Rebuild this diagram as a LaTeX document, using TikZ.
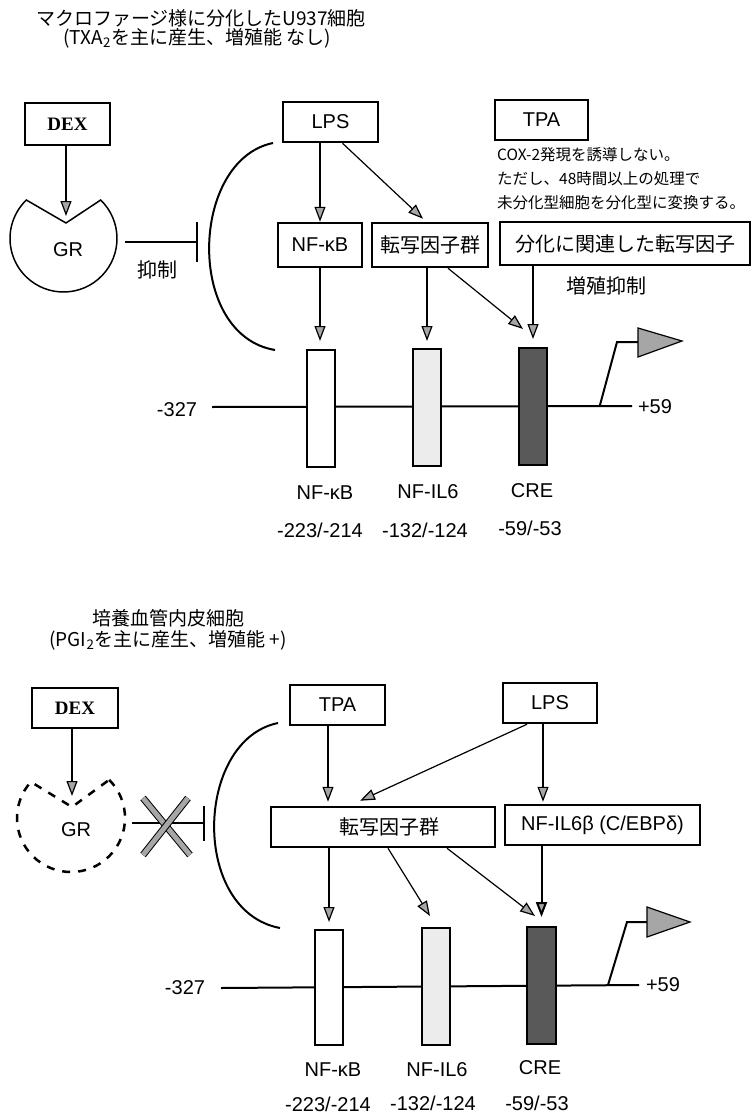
\documentclass[tikz,border=0pt]{standalone}
\usepackage{fontspec}
\setmainfont{Liberation Sans}
\newfontfamily\jpfont{Noto Sans CJK JP}
\newfontfamily\dexfont{Liberation Serif}
\usetikzlibrary{arrows.meta}
\newcommand{\lbl}{\fontsize{20}{24}\selectfont}
\newcommand{\jplbl}{\jpfont\fontsize{20}{24}\selectfont}
\newcommand{\jpnote}{\jpfont\fontsize{15.5}{24}\selectfont}
\newcommand{\jptitle}{\jpfont\fontsize{19}{22}\selectfont}
\tikzset{
  stimbox/.style={draw, line width=2.5pt, inner sep=0pt, font=\lbl},
  jbox/.style={stimbox, font=\jplbl},
  dexbox/.style={stimbox, font=\dexfont\bfseries\fontsize{19}{22}\selectfont},
  site/.style={draw, line width=2pt, inner sep=0pt, minimum width=28pt, minimum height=117pt},
  garrow/.style={line width=1.2pt, -{Triangle[length=15pt,width=11pt,fill=gray!70]}},
  inhib/.style={line width=2.5pt, -{Bar[width=40pt]}},
  dna/.style={line width=2pt},
  xmark/.style={line width=1pt, double=gray!70, double distance=5pt},
  txt/.style={inner sep=0pt, font=\lbl},
  jtxt/.style={inner sep=0pt, font=\jplbl},
  ttl/.style={inner sep=0pt, font=\jptitle},
  notetxt/.style={inner sep=0pt, align=left, font=\jpnote},
}
\begin{document}
\begin{tikzpicture}[x=1pt,y=-1pt]
        \useasboundingbox (0,0) rectangle (751,1118);

        % pannello superiore: titolo
        \node[ttl] (titA1) at (201,18) {マクロファージ様に分化したU937細胞};
        \node[ttl] (titA2) at (197,38) {(TXA\textsubscript{2}を主に産生、増殖能 なし)};

        % stimoli
        \node[dexbox, minimum width=85pt, minimum height=42pt] (dexA) at (67.5,124) {DEX};
        \node[stimbox, minimum width=95pt, minimum height=40pt] (lpsA) at (330.5,122) {LPS};
        \node[stimbox, minimum width=93pt, minimum height=40pt] (tpaA) at (541.5,120) {TPA};
        \node[notetxt, anchor=west] (noteA) at (497,179) {COX-2発現を誘導しない。\\ただし、48時間以上の処理で\\未分化型細胞を分化型に変換する。};

        % fattori
        \node[stimbox, minimum width=84pt, minimum height=44pt] (nfkbA) at (320,245) {NF-κB};
        \node[jbox, minimum width=116pt, minimum height=44pt] (tfA) at (430,245) {転写因子群};
        \node[jbox, minimum width=250pt, minimum height=43pt] (diffA) at (625,243.5) {分化に関連した転写因子};
        \node[jtxt] (growA) at (606,286) {増殖抑制};

        % GR
        \coordinate (grAc) at (63.5,238.5);
        \coordinate (grAtip) at (66,223);
        \coordinate (grAin) at (66,216);
        \draw[line width=1.5pt] (grAc) ++(-46:53.5) arc[start angle=-46, end angle=226, radius=53.5] -- (grAtip) -- cycle;
        \node[txt] (grA) at (68,250) {GR};
        \draw[garrow] (dexA.south -| grAin) -- (grAin);

        % inibizione
        \coordinate (inhAs) at (125,242);
        \coordinate (inhAe) at (198,242);
        \draw[inhib] (inhAs) -- (inhAe);
        \node[jtxt] (inhA) at (157,270) {抑制};
        \draw[line width=2pt] (273,143) .. controls (190,160) and (185,335) .. (275,350);

        % promotore
        \coordinate (dnaAl) at (212,407);
        \coordinate (dnaAr) at (632,406);
        \draw[dna] (dnaAl) -- (dnaAr);
        \node[txt] (m327A) at (177,410) {-327};
        \node[txt] (p59A) at (655,407) {+59};
        \node[site, fill=white] (siteA1) at (321,408.5) {};
        \node[site, fill=gray!15] (siteA2) at (427,407.5) {};
        \node[site, fill=black!65] (siteA3) at (533,406.5) {};
        \coordinate (prA) at (600,405);
        \draw[dna] (prA) -- (617,342) -- (638,342);
        \draw[line width=1.2pt, fill=gray!70] (638,328) -- (682,341) -- (638,357) -- cycle;

        \node[txt] (labA1) at (325,493) {NF-κB};
        \node[txt] (labA2) at (428,492) {NF-IL6};
        \node[txt] (labA3) at (532,491) {CRE};
        \node[txt] (posA1) at (320,530) {-223/-214};
        \node[txt] (posA2) at (425,530) {-132/-124};
        \node[txt] (posA3) at (530,528) {-59/-53};

        % frecce
        \draw[garrow] (lpsA.south -| nfkbA) -- (nfkbA.north);
        \draw[garrow] ([xshift=12pt]lpsA.south) -- ([xshift=-7pt,yshift=3pt]tfA.north);
        \draw[garrow, shorten >=8pt] (nfkbA.south) -- (nfkbA.south |- siteA1.north);
        \draw[garrow, shorten >=7pt] (siteA2.north |- tfA.south) -- (siteA2.north);
        \draw[garrow] ([xshift=18pt]tfA.south) -- ([xshift=-10pt,yshift=18pt]siteA3.north);
        \draw[garrow, shorten >=8pt] (siteA3.north |- diffA.south) -- (siteA3.north);

        % pannello inferiore: titolo
        \node[ttl] (titB1) at (168,618) {培養血管内皮細胞};
        \node[ttl] (titB2) at (168,640) {(PGI\textsubscript{2}を主に産生、増殖能 +)};

        % stimoli
        \node[dexbox, minimum width=86pt, minimum height=40pt] (dexB) at (75,708) {DEX};
        \node[stimbox, minimum width=95pt, minimum height=40pt] (tpaB) at (337.5,705) {TPA};
        \node[stimbox, minimum width=94pt, minimum height=40pt] (lpsB) at (550,703) {LPS};

        % fattori
        \node[jbox, minimum width=224pt, minimum height=40pt, text width=224pt, align=center] (tfB) at (383,827) {\hspace*{12pt}転写因子群};
        \node[stimbox, minimum width=195pt, minimum height=40pt] (nfilB) at (602.5,825) {NF-IL6β (C/EBPδ)};

        % GR
        \coordinate (grBc) at (71,818);
        \coordinate (grBtip) at (72,807);
        \coordinate (grBin) at (72,796);
        \draw[line width=2.5pt, dash pattern=on 8pt off 8pt] (grBc) ++(-45:54) arc[start angle=-45, end angle=222, radius=54] -- (grBtip) -- cycle;
        \node[txt] (grB) at (76,830) {GR};
        \draw[garrow] (dexB.south -| grBin) -- (grBin);

        % inibizione bloccata
        \coordinate (inhBs) at (132,823);
        \coordinate (inhBe) at (205,823);
        \draw[inhib, -{Bar[width=35pt]}] (inhBs) -- (inhBe);
        \draw[xmark] (143,798) -- (190,855);
        \draw[xmark] (188,798) -- (143,855);
        \draw[line width=2pt] (278,723) .. controls (195,740) and (190,911) .. (280,928);

        % promotore
        \coordinate (dnaBl) at (221,988);
        \coordinate (dnaBr) at (639,985);
        \draw[dna] (dnaBl) -- (dnaBr);
        \node[txt] (m327B) at (185,988) {-327};
        \node[txt] (p59B) at (663,985) {+59};
        \node[site, fill=white, minimum height=115pt] (siteB1) at (329,987.5) {};
        \node[site, fill=gray!15] (siteB2) at (436,986.5) {};
        \node[site, fill=black!65, minimum width=29pt] (siteB3) at (541.5,985.5) {};
        \coordinate (prB) at (608,985);
        \draw[dna] (prB) -- (627,922) -- (647,922);
        \draw[line width=1.2pt, fill=gray!70] (647,907) -- (690,922) -- (647,937) -- cycle;

        \node[txt] (labB1) at (333,1070) {NF-κB};
        \node[txt] (labB2) at (437,1070) {NF-IL6};
        \node[txt] (labB3) at (540,1068) {CRE};
        \node[txt] (posB1) at (328,1104) {-223/-214};
        \node[txt] (posB2) at (433,1103) {-132/-124};
        \node[txt] (posB3) at (537,1103) {-59/-53};

        % frecce
        \draw[garrow, shorten >=4pt] ([xshift=-9.5pt]tpaB.south) -- ([xshift=-9.5pt]tpaB.south |- tfB.north);
        \draw[garrow] ([xshift=-23pt]lpsB.south) -- ([xshift=-23pt,yshift=5pt]tfB.north);
        \draw[garrow, shorten >=2pt] ([xshift=-7pt]lpsB.south) -- ([xshift=-7pt]lpsB.south |- nfilB.north);
        \draw[garrow, shorten >=7pt] (siteB1.north |- tfB.south) -- (siteB1.north);
        \draw[garrow] ([xshift=5pt]tfB.south) -- ([xshift=-6pt,yshift=11pt]siteB2.north);
        \draw[garrow] ([xshift=64pt]tfB.south) -- ([xshift=-6.5pt,yshift=10pt]siteB3.north);
        \draw[garrow, line width=2pt, shorten >=9pt] (siteB3.north |- nfilB.south) -- (siteB3.north);
\end{tikzpicture}
\end{document}
